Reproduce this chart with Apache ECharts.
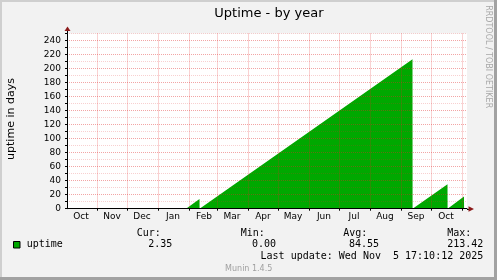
<!DOCTYPE html>
<html><head><meta charset="utf-8">
<script src="https://cdn.jsdelivr.net/npm/echarts@6/dist/echarts.min.js"></script>
<style>html,body{margin:0;padding:0;background:#F2F2F2}#c{width:497px;height:280px}</style>
</head><body><div id="c"></div>
<script>
// ---- data ----
const monthNames = ['Jan','Feb','Mar','Apr','May','Jun','Jul','Aug','Sep','Oct','Nov','Dec'];
const xStart = '2024-10-02 00:00';
const xEnd = '2025-11-06 00:00';
const gridMonths = ['2024-11-01','2024-12-01','2025-01-01','2025-02-01','2025-03-01','2025-04-01','2025-05-01','2025-06-01','2025-07-01','2025-08-01','2025-09-01','2025-10-01','2025-11-01'];
const labelDates = ['2024-10-16','2024-11-16','2024-12-16','2025-01-16','2025-02-16','2025-03-16','2025-04-16','2025-05-16','2025-06-16','2025-07-16','2025-08-16','2025-09-16','2025-10-16'];
const sampleTimes = ['2024-10-02 00:00','2025-01-29 00:00','2025-02-11 12:00','2025-02-11 14:00','2025-09-12 12:00','2025-09-12 14:00','2025-10-17 12:00','2025-10-17 14:00','2025-11-03 00:00','2025-11-03 02:00','2025-11-05 17:10'];
const uptimeDays = [0, 0, 13.7, 0, 213.42, 0, 35, 0, 17.5, 0, 2.35];
const yMax = 250;
const yStep = 10;
const yLabelStep = 20;
const seriesName = 'uptime';
const legendHeads = ['Cur:','Min:','Avg:','Max:'];
const legendValues = ['2.35','0.00','84.55','213.42'];
const lastUpdate = 'Last update: Wed Nov  5 17:10:12 2025';
const titleText = 'Uptime - by year';
const yName = 'uptime in days';
const sideText = 'RRDTOOL / TOBI OETIKER';
const footer = 'Munin 1.4.5';

function toUTC(s){
  const [d,t] = s.split(' ');
  const [Y,M,D] = d.split('-').map(Number);
  const [h,m] = (t||'00:00').split(':').map(Number);
  return Date.UTC(Y, M-1, D, h, m);
}

const green = '#00A800';
const major = 'rgba(225,40,40,0.42)';
const minor = 'rgba(225,40,40,0.22)';
const sans = 'DejaVu Sans';
const mono = 'DejaVu Sans Mono';

const chart = echarts.init(document.getElementById('c'), null, {renderer:'canvas'});
const xMin = toUTC(xStart), xMax = toUTC(xEnd);

chart.setOption({
  animation: false,
  backgroundColor: '#F2F2F2',
  grid: {left: 67, right: 30, top: 33.5, bottom: 71.3, show: true, backgroundColor: '#FFFFFF', borderWidth: 0},
  xAxis: {
    type: 'value', min: xMin, max: xMax, z: 5, scale: true,
    axisLine: {show: true, onZero: false, lineStyle: {color: '#000', width: 1}},
    axisTick: {show: true, customValues: gridMonths.map(toUTC), length: 2, lineStyle: {color: '#000'}},
    axisLabel: {
      customValues: labelDates.map(toUTC), margin: 3, showMinLabel: true, showMaxLabel: true,
      fontFamily: sans, fontSize: 9, color: '#000',
      formatter: v => monthNames[new Date(v).getUTCMonth()]
    },
    splitLine: {show: true, lineStyle: {color: major, width: 1, type: [1,1]}}
  },
  yAxis: {
    type: 'value', min: 0, max: yMax, interval: yStep, z: 5,
    axisLine: {show: true, lineStyle: {color: '#000', width: 1}},
    axisTick: {show: true, length: 2, lineStyle: {color: '#000'}},
    axisLabel: {
      margin: 6, fontFamily: sans, fontSize: 9, color: '#000',
      formatter: v => (v % yLabelStep === 0 && v < yMax) ? String(v) : ''
    },
    splitLine: {show: true, lineStyle: {color: [major, minor], width: 1, type: [1,1]}}
  },
  series: [{
    name: seriesName, type: 'line', z: 2,
    data: sampleTimes.map((t,i) => [toUTC(t), uptimeDays[i]]),
    showSymbol: false, symbol: 'none',
    lineStyle: {opacity: 0},
    areaStyle: {color: green, opacity: 1}
  }]
});

const pBL = chart.convertToPixel({gridIndex:0}, [xMin, 0]);
const pTR = chart.convertToPixel({gridIndex:0}, [xMax, yMax]);
const arrowColor = '#8B1A1A';

function txt(text, x, y, font, fill, align, valign, rotation){
  return {type:'text', x, y, rotation: rotation||0, z: 10,
    style:{text, font, fill, align, textAlign: align, verticalAlign: valign||'middle', textVerticalAlign: valign||'middle'}};
}

const g = [
  {type:'rect', shape:{x:0,y:0,width:497,height:2}, style:{fill:'#CFCFCF'}, z:10},
  {type:'rect', shape:{x:0,y:0,width:2,height:280}, style:{fill:'#CFCFCF'}, z:10},
  {type:'rect', shape:{x:494,y:0,width:3,height:280}, style:{fill:'#A2A2A2'}, z:10},
  {type:'rect', shape:{x:0,y:277,width:497,height:3}, style:{fill:'#A2A2A2'}, z:10},
  {type:'line', shape:{x1:Math.round(pBL[0])+0.5, y1:pTR[1], x2:Math.round(pBL[0])+0.5, y2:pTR[1]-3}, style:{stroke:'#000', lineWidth:1}, z:10},
  {type:'polygon', shape:{points:[[pBL[0]-2.5, pTR[1]-2.5],[pBL[0]+3.5, pTR[1]-2.5],[pBL[0]+0.5, pTR[1]-7]]}, style:{fill:arrowColor}, z:10},
  {type:'line', shape:{x1:pTR[0], y1:Math.round(pBL[1])+0.5, x2:pTR[0]+2, y2:Math.round(pBL[1])+0.5}, style:{stroke:'#000', lineWidth:1}, z:10},
  {type:'polygon', shape:{points:[[pTR[0]+1.5, pBL[1]-2.5],[pTR[0]+1.5, pBL[1]+3],[pTR[0]+7, pBL[1]+0.3]]}, style:{fill:arrowColor}, z:10},
  txt(titleText, 214.3, 14, '13px ' + sans, '#000', 'left'),
  txt(yName, 11.5, 119, '11px ' + sans, '#000', 'center', 'middle', Math.PI/2),
  txt(sideText, 488, 56.7, '8px ' + sans, '#A8A8A8', 'center', 'middle', -Math.PI/2),
  {type:'rect', shape:{x:13.5, y:241.5, width:6.5, height:6.5}, style:{fill:green, stroke:'#000', lineWidth:1}, z:10},
  txt(seriesName, 26.7, 244.5, '10px ' + mono, '#000', 'left'),
  txt(lastUpdate, 483.3, 256, '10px ' + mono, '#000', 'right'),
  txt(footer, 248.7, 269.3, '8px ' + sans, '#A0A0A0', 'center')
];
const headLeft = [136.7, 240.7, 343.3, 447.3];
const valRight = [172.3, 276, 379, 483.3];
legendHeads.forEach((h,i) => g.push(txt(h, headLeft[i], 233.3, '10px ' + mono, '#000', 'left')));
legendValues.forEach((v,i) => g.push(txt(v, valRight[i], 244.5, '10px ' + mono, '#000', 'right')));
chart.setOption({graphic: g});
</script>
</body></html>
